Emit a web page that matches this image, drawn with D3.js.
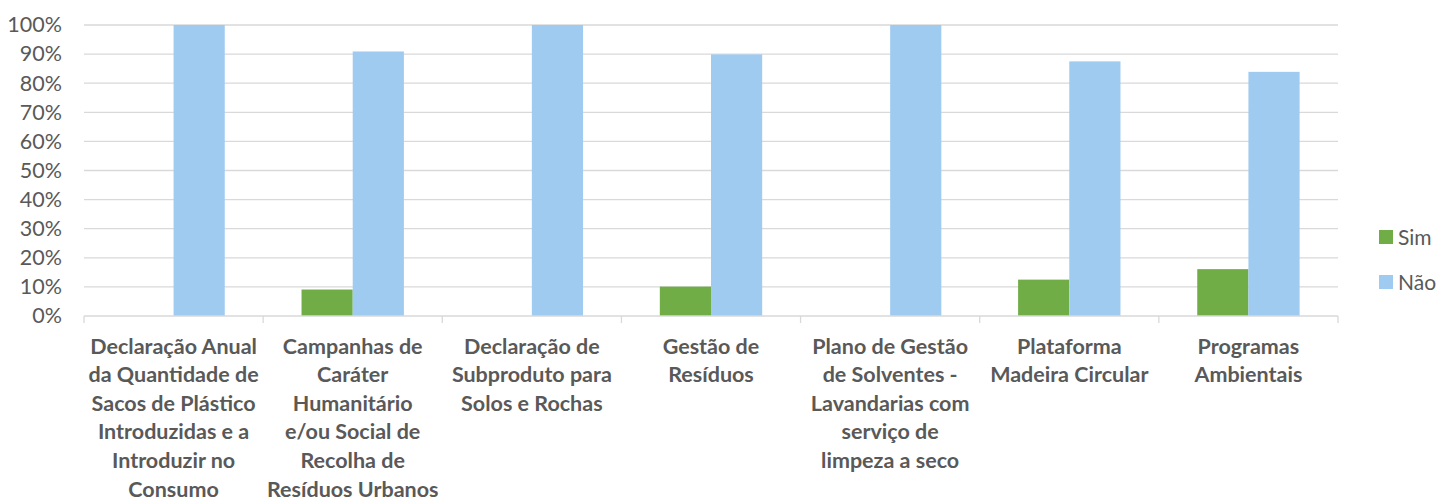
<!DOCTYPE html>
<html><head><meta charset="utf-8">
<script src="https://cdn.jsdelivr.net/npm/d3@7"></script>
<style>body{margin:0;background:#fff;}svg{display:block;}</style>
</head><body>
<script>
const categories = [
  ["Declaração Anual","da Quantidade de","Sacos de Plástico","Introduzidas e a","Introduzir no","Consumo"],
  ["Campanhas de","Caráter","Humanitário","e/ou Social de","Recolha de","Resíduos Urbanos"],
  ["Declaração de","Subproduto para","Solos e Rochas"],
  ["Gestão de","Resíduos"],
  ["Plano de Gestão","de Solventes -","Lavandarias com","serviço de","limpeza a seco"],
  ["Plataforma","Madeira Circular"],
  ["Programas","Ambientais"]
];
const seriesNames = ["Sim","Não"];
const simValues = [0, 9.1, 0, 10.1, 0, 12.5, 16.1];
const naoValues = [100, 90.9, 100, 89.9, 100, 87.5, 83.9];
const yTicks = [0,10,20,30,40,50,60,70,80,90,100];
const colors = ["#70AD47","#A0CBF1"];

const W=1438,H=501;
const svg=d3.select("body").append("svg").attr("width",W).attr("height",H);
const font="Lato, 'Open Sans', sans-serif";
const x0=d3.scaleBand().domain(d3.range(categories.length)).range([84,1338]).paddingInner(0).paddingOuter(0);
const y=d3.scaleLinear().domain([0,100]).range([316,25]);
const bw=x0.bandwidth()/(2+1.5);
const x1=d3.scaleBand().domain([0,1]).range([bw*0.75,bw*0.75+2*bw]);

// grid
svg.append("g").selectAll("line").data(yTicks.filter(d=>d>0)).join("line")
  .attr("x1",84).attr("x2",1338).attr("y1",d=>y(d)).attr("y2",d=>y(d))
  .attr("stroke","#D9D9D9").attr("stroke-width",1.3);

// y axis labels
const ya=svg.append("g").attr("transform","translate(62,0)").call(d3.axisLeft(y).tickValues(yTicks).tickFormat(d=>d+"%").tickSize(0).tickPadding(0));
ya.select(".domain").remove();
ya.selectAll("text").attr("font-family",font).attr("font-size",21.5).attr("fill","#595959");

// bars
const data=categories.map((c,i)=>[simValues[i],naoValues[i]]);
const g=svg.append("g").selectAll("g").data(data).join("g").attr("transform",(d,i)=>`translate(${x0(i)},0)`);
g.selectAll("rect").data(d=>d.map((v,k)=>({v,k}))).join("rect")
  .attr("x",d=>x1(d.k)).attr("width",x1.bandwidth())
  .attr("y",d=>y(d.v)).attr("height",d=>y(0)-y(d.v))
  .attr("fill",d=>colors[d.k]);

// x axis
const xa=svg.append("g").attr("transform","translate(0,316)");
xa.append("line").attr("x1",84).attr("x2",1338).attr("stroke","#D9D9D9").attr("stroke-width",1.3);
xa.selectAll("line.t").data(d3.range(categories.length+1)).join("line").attr("class","t")
  .attr("x1",i=>84+i*x0.bandwidth()).attr("x2",i=>84+i*x0.bandwidth()).attr("y1",0).attr("y2",7)
  .attr("stroke","#D9D9D9").attr("stroke-width",1.3);
const lab=svg.append("g").selectAll("text").data(categories).join("text")
  .attr("x",(d,i)=>x0(i)+x0.bandwidth()/2).attr("y",353.5)
  .attr("text-anchor","middle").attr("font-family",font).attr("font-weight","bold")
  .attr("font-size",21.5).attr("fill","#595959");
lab.selectAll("tspan").data(d=>d).join("tspan")
  .attr("x",function(){return this.parentNode.getAttribute("x");})
  .attr("dy",(d,j)=>j===0?0:28.6).text(d=>d);

// legend
const lg=svg.append("g").selectAll("g").data(seriesNames).join("g")
  .attr("transform",(d,i)=>`translate(1379,${230+i*45})`);
lg.append("rect").attr("width",14).attr("height",14).attr("fill",(d,i)=>colors[i]);
lg.append("text").attr("x",19).attr("y",14.5).attr("font-family",font).attr("font-size",21).attr("fill","#595959").text(d=>d);
</script>
</body></html>
